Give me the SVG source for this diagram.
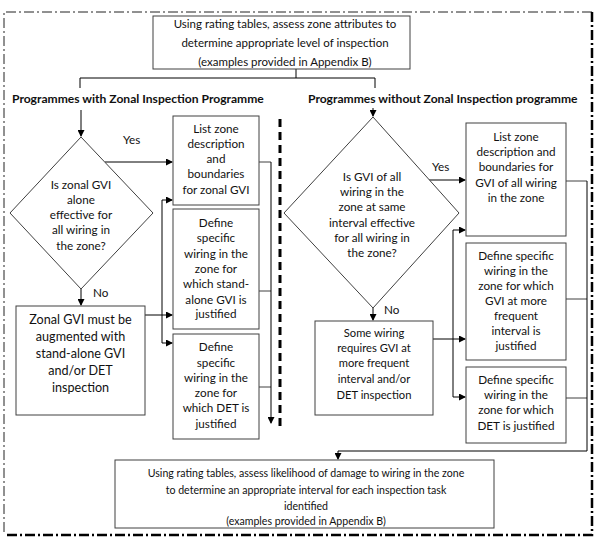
<svg xmlns="http://www.w3.org/2000/svg" width="602" height="541" viewBox="0 0 602 541">
<style>
text{font-family:Lato,"Liberation Sans",sans-serif;font-size:11.7px;fill:#111;text-anchor:middle}
.h{font-weight:bold;font-size:12.1px;text-anchor:start}
.big{font-size:12.6px}
.t{font-size:11.5px}
.s{font-size:10.6px}
.m{font-size:11.2px}
.box{fill:#fff;stroke:#404040;stroke-width:1}
.c{fill:none;stroke:#000;stroke-width:1}
.g{fill:none;stroke:#404040;stroke-width:1}
.lbl{text-anchor:start}
</style>
<defs>
<marker id="a" markerWidth="7" markerHeight="7" refX="6" refY="3.5" orient="auto" markerUnits="userSpaceOnUse">
<path d="M0,0 L7,3.5 L0,7 z" fill="#000"/>
</marker>
</defs>
<rect width="602" height="541" fill="#fff"/>
<g id="border">
<path d="M592,12 H4 V535" fill="none" stroke="#222" stroke-width="1" stroke-dasharray="10 3 2 3"/>
<path d="M592,12 V535 H4" fill="none" stroke="#000" stroke-width="2.5" stroke-dasharray="10 3 2 3"/>
</g>
<g id="divider">
<line x1="280" y1="119" x2="280" y2="430" stroke="#000" stroke-width="3" stroke-dasharray="8 5"/>
</g>
<g id="connectors">
<path class="c" d="M296,69 V78 M80,88 V78 H375 V88"/>
<path class="c" d="M81,110 V136" marker-end="url(#a)"/>
<path class="c" d="M373,108 V116" marker-end="url(#a)"/>
<path class="c" d="M105,162 H172" marker-end="url(#a)"/>
<path class="c" d="M81,289 V305" marker-end="url(#a)"/>
<path class="c" d="M145,315 H172" marker-end="url(#a)"/>
<path class="c" d="M162,315 V200 H172" marker-end="url(#a)"/>
<path class="c" d="M162,315 V343 H172" marker-end="url(#a)"/>
<path class="g" d="M259,162 H271 M259,291 H271 M259,387 H271"/>
<path class="c" d="M271,162 V423" marker-end="url(#a)"/>
<path class="c" d="M429,180 H465" marker-end="url(#a)"/>
<path class="c" d="M373,308 V320" marker-end="url(#a)"/>
<path class="c" d="M433,339 H465" marker-end="url(#a)"/>
<path class="c" d="M453,339 V230 H465" marker-end="url(#a)"/>
<path class="c" d="M453,339 V397 H465" marker-end="url(#a)"/>
<path class="g" d="M566,181 H587 M566,299 H587 M566,398 H587"/>
<path class="c" d="M587,181 V451 H338 V459" marker-end="url(#a)"/>
</g>
<g id="top">
<rect class="box" x="153" y="16" width="257" height="53"/>
<text class="t" x="285" y="28">Using rating tables, assess zone attributes to</text>
<text class="t" x="285" y="47">determine appropriate level of inspection</text>
<text class="t" x="285" y="66">(examples provided in Appendix B)</text>
</g>
<g id="headers">
<text class="h" x="12" y="103">Programmes with Zonal Inspection Programme</text>
<text class="h" x="308" y="103">Programmes without Zonal Inspection programme</text>
</g>
<g id="labels">
<text class="lbl" x="123" y="144">Yes</text>
<text class="lbl" x="93" y="297">No</text>
<text class="lbl" x="432" y="171">Yes</text>
<text class="lbl" x="384" y="314">No</text>
</g>
<g id="d1">
<polygon class="box" points="81,137 153,213 81,289 10,213"/>
<text x="81" y="189">Is zonal GVI</text>
<text x="81" y="204">alone</text>
<text x="81" y="219">effective for</text>
<text x="81" y="234">all wiring in</text>
<text x="81" y="250">the zone?</text>
</g>
<g id="L1">
<rect class="box" x="173" y="116" width="86" height="89"/>
<text x="216" y="133">List zone</text>
<text x="216" y="148">description</text>
<text x="216" y="163">and</text>
<text x="216" y="178">boundaries</text>
<text x="216" y="194">for zonal GVI</text>
</g>
<g id="L2">
<rect class="box" x="173" y="209" width="86" height="120"/>
<text x="216" y="227">Define</text>
<text x="216" y="242">specific</text>
<text x="216" y="258">wiring in the</text>
<text x="216" y="273">zone for</text>
<text x="216" y="288">which stand-</text>
<text x="216" y="304">alone GVI is</text>
<text x="216" y="318">justified</text>
</g>
<g id="L3">
<rect class="box" x="173" y="334" width="86" height="105"/>
<text x="216" y="351">Define</text>
<text x="216" y="367">specific</text>
<text x="216" y="382">wiring in the</text>
<text x="216" y="397">zone for</text>
<text x="216" y="412">which DET is</text>
<text x="216" y="428">justified</text>
</g>
<g id="Z">
<rect class="box" x="16" y="306" width="129" height="109"/>
<text class="big" x="80.5" y="324">Zonal GVI must be</text>
<text class="big" x="80.5" y="341">augmented with</text>
<text class="big" x="80.5" y="358">stand-alone GVI</text>
<text class="big" x="80.5" y="375">and/or DET</text>
<text class="big" x="80.5" y="392">inspection</text>
</g>
<g id="d2">
<polygon class="box" points="373,117 459,213 373,308 284,213"/>
<text x="372" y="181">Is GVI of all</text>
<text x="372" y="196">wiring in the</text>
<text x="372" y="211">zone at same</text>
<text x="372" y="227">interval effective</text>
<text x="372" y="242">for all wiring in</text>
<text x="372" y="257">the zone?</text>
</g>
<g id="R1">
<rect class="box" x="466" y="123" width="100" height="113"/>
<text x="516" y="141">List zone</text>
<text x="516" y="156">description and</text>
<text x="516" y="171">boundaries for</text>
<text x="516" y="187">GVI of all wiring</text>
<text x="516" y="202">in the zone</text>
</g>
<g id="R2">
<rect class="box" x="466" y="243" width="100" height="117"/>
<text x="516" y="260">Define specific</text>
<text x="516" y="275">wiring in the</text>
<text x="516" y="290">zone for which</text>
<text x="516" y="305">GVI at more</text>
<text x="516" y="320">frequent</text>
<text x="516" y="335">interval is</text>
<text x="516" y="350">justified</text>
</g>
<g id="R3">
<rect class="box" x="466" y="367" width="100" height="76"/>
<text x="516" y="384">Define specific</text>
<text x="516" y="399">wiring in the</text>
<text x="516" y="414">zone for which</text>
<text x="516" y="430">DET is justified</text>
</g>
<g id="S">
<rect class="box" x="315" y="321" width="118" height="94"/>
<text class="m" x="374" y="337">Some wiring</text>
<text class="m" x="374" y="352">requires GVI at</text>
<text class="m" x="374" y="367">more frequent</text>
<text class="m" x="374" y="383">interval and/or</text>
<text class="m" x="374" y="399">DET inspection</text>
</g>
<g id="bottom">
<rect class="box" x="115" y="460" width="379" height="68"/>
<text class="s" x="306" y="477">Using rating tables, assess likelihood of damage to wiring in the zone</text>
<text class="s" x="306" y="494">to determine an appropriate interval for each inspection task</text>
<text class="s" x="306" y="510">identified</text>
<text class="s" x="306" y="525">(examples provided in Appendix B)</text>
</g>
</svg>
